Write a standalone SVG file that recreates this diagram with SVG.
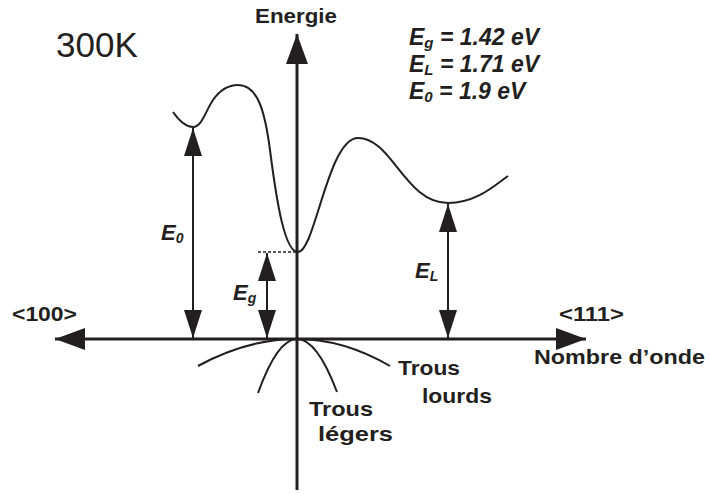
<svg xmlns="http://www.w3.org/2000/svg" width="710" height="494" viewBox="0 0 710 494">
<defs>
<marker id="axhead" markerUnits="userSpaceOnUse" markerWidth="32" markerHeight="24" refX="30" refY="11" orient="auto">
<path d="M0,0 L30,11 L0,22 Z" fill="#231f20"/>
</marker>
<marker id="head" markerUnits="userSpaceOnUse" markerWidth="30" markerHeight="20" refX="28" refY="9" orient="auto">
<path d="M0,0 L28,9 L0,18 Z" fill="#231f20"/>
</marker>
</defs>
<style>
text{font-family:"Liberation Sans",Arial,sans-serif;fill:#231f20}
.b{font-weight:bold}
.bi{font-weight:bold;font-style:italic}
.ax{stroke:#231f20;stroke-width:3;fill:none}
.ar{stroke:#231f20;stroke-width:2;fill:none}
.cv{stroke:#231f20;stroke-width:2;fill:none}
</style>
<rect width="710" height="494" fill="#fff"/>
<g id="axes">
<line class="ax" x1="297" y1="490" x2="297" y2="34" marker-end="url(#axhead)"/>
<line class="ax" x1="297" y1="339" x2="55" y2="339" marker-end="url(#axhead)"/>
<line class="ax" x1="297" y1="339" x2="586" y2="339" marker-end="url(#axhead)"/>
</g>
<g id="band-curves">
<path class="cv" d="M173,112 C180,122 186,127 193,127 C202,127 206,110 213,100 C220,90 228,85 238,85 C258,85 265,112 270,150 C277,205 285,252 298,252 C315,252 328,138 358,138 C392,138 405,203 448,203 C476,203 494,186 508,176"/>
<path class="cv" d="M198,366 Q247.5,339 297,339 Q343.5,339 390,366"/>
<path class="cv" d="M258,393 Q277.5,339 297,339 Q317,339 337,392"/>
<line x1="258" y1="252" x2="297" y2="252" stroke="#231f20" stroke-width="1.5" stroke-dasharray="3,2"/>
</g>
<g id="connectors">
<line class="ar" x1="193" y1="233" x2="193" y2="128" marker-end="url(#head)"/>
<line class="ar" x1="193" y1="233" x2="193" y2="338" marker-end="url(#head)"/>
<line class="ar" x1="267" y1="296" x2="267" y2="253" marker-end="url(#head)"/>
<line class="ar" x1="267" y1="296" x2="267" y2="338" marker-end="url(#head)"/>
<line class="ar" x1="448" y1="270" x2="448" y2="204" marker-end="url(#head)"/>
<line class="ar" x1="448" y1="270" x2="448" y2="338" marker-end="url(#head)"/>
</g>
<g id="labels">
<text x="56" y="57" font-size="35">300K</text>
<text class="b" x="255" y="23" font-size="20" textLength="82" lengthAdjust="spacingAndGlyphs">Energie</text>
<text class="b" x="12" y="321" font-size="20" textLength="65" lengthAdjust="spacingAndGlyphs">&lt;100&gt;</text>
<text class="b" x="559" y="321" font-size="20" textLength="65" lengthAdjust="spacingAndGlyphs">&lt;111&gt;</text>
<text class="b" x="534" y="364" font-size="20" textLength="171" lengthAdjust="spacingAndGlyphs">Nombre d’onde</text>
<text class="b" x="398" y="375" font-size="21" textLength="62" lengthAdjust="spacingAndGlyphs">Trous</text>
<text class="b" x="422" y="403" font-size="21" textLength="70" lengthAdjust="spacingAndGlyphs">lourds</text>
<text class="b" x="309" y="416" font-size="21" textLength="64" lengthAdjust="spacingAndGlyphs">Trous</text>
<text class="b" x="318" y="441" font-size="21" textLength="75" lengthAdjust="spacingAndGlyphs">légers</text>
<text class="bi" x="161" y="240" font-size="22">E<tspan font-size="14" dy="3">0</tspan></text>
<text class="bi" x="233" y="300" font-size="22">E<tspan font-size="14" dy="3">g</tspan></text>
<text class="bi" x="415" y="278" font-size="22">E<tspan font-size="14" dy="3">L</tspan></text>
<text class="bi" x="409" y="45" font-size="23">E<tspan font-size="15" dy="3">g</tspan><tspan dy="-3"> = 1.42 eV</tspan></text>
<text class="bi" x="409" y="72" font-size="23">E<tspan font-size="15" dy="3">L</tspan><tspan dy="-3"> = 1.71 eV</tspan></text>
<text class="bi" x="409" y="99" font-size="23">E<tspan font-size="15" dy="3">0</tspan><tspan dy="-3"> = 1.9 eV</tspan></text>
</g>
</svg>
